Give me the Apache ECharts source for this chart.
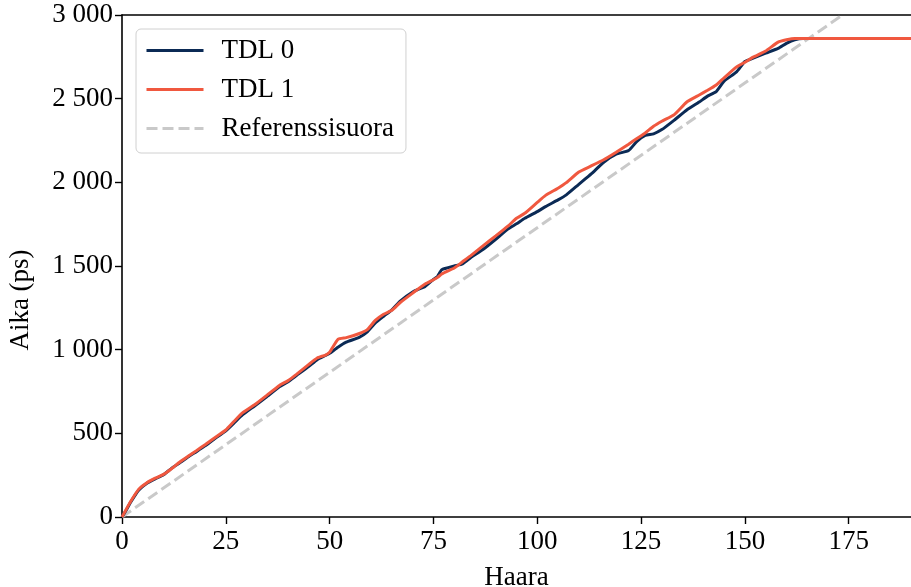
<!DOCTYPE html>
<html>
<head>
<meta charset="utf-8">
<script src="https://cdn.jsdelivr.net/npm/echarts@6/dist/echarts.min.js"></script>
<style>
  html, body { margin: 0; padding: 0; background: #ffffff; }
  #chart { width: 911px; height: 587px; }
</style>
</head>
<body>
<div id="chart"></div>
<script>
// Branch index (Haara) at which the delay was sampled
const branches = [0, 1, 2, 4, 6, 8, 10, 12, 14, 16, 18, 20, 22, 25, 27, 29, 32, 35, 38, 40,
  42, 45, 47, 49, 50, 52, 54, 57, 59, 61, 63, 65, 67, 70, 73, 75, 76, 77, 80, 82,
  84, 87, 90, 93, 95, 97, 100, 102, 105, 107, 110, 113, 116, 119, 122, 124, 126, 128, 130, 133,
  136, 139, 141, 143, 145, 148, 150, 152, 155, 158, 160, 162, 164, 166, 190];

// Accumulated delay (ps) for each delay line
const tdl0 = [0, 40, 85, 160, 202, 228, 252, 292, 325, 360, 392, 425, 462, 515, 562, 610, 665, 722, 780, 808,
  845, 900, 940, 965, 978, 1015, 1045, 1072, 1105, 1160, 1200, 1238, 1290, 1345, 1378, 1420, 1438, 1478, 1500, 1512,
  1550, 1600, 1660, 1722, 1752, 1785, 1825, 1855, 1895, 1925, 1988, 2050, 2120, 2168, 2190, 2245, 2280, 2290, 2315, 2372,
  2432, 2480, 2515, 2540, 2605, 2660, 2722, 2742, 2772, 2800, 2830, 2852, 2860, 2860, 2860];

const tdl1 = [0, 45, 90, 165, 205, 232, 255, 290, 330, 365, 398, 432, 468, 520, 572, 622, 672, 730, 788, 815,
  852, 912, 950, 968, 985, 1062, 1072, 1095, 1118, 1175, 1212, 1235, 1282, 1338, 1392, 1418, 1432, 1452, 1488, 1525,
  1562, 1622, 1680, 1740, 1785, 1815, 1880, 1922, 1965, 1998, 2062, 2098, 2135, 2180, 2228, 2262, 2295, 2335, 2365, 2405,
  2480, 2522, 2550, 2580, 2625, 2690, 2718, 2748, 2785, 2838, 2852, 2860, 2860, 2860, 2860];

// Ideal reference line: start and end points
const refX = [0, 173.5];
const refY = [0, 3000];

const xTicks = [0, 25, 50, 75, 100, 125, 150, 175];
const yTicks = [0, 500, 1000, 1500, 2000, 2500, 3000];

const seriesNames = ['TDL 0', 'TDL 1', 'Referenssisuora'];
const colors = ['#0b2a55', '#f0583f', '#c9c9c9'];

const FONT = 'Liberation Serif';
const FS = 27;

const pairs = (xs, ys) => xs.map((x, i) => [x, ys[i]]);
const thousands = v => String(v).replace(/\B(?=(\d{3})+(?!\d))/g, ' ');

const chart = echarts.init(document.getElementById('chart'), null, { renderer: 'canvas' });

const axisLine = { show: true, lineStyle: { color: '#000', width: 1.6 } };

chart.setOption({
  animation: false,
  backgroundColor: '#ffffff',
  grid: { left: 122, right: 0, top: 15, bottom: 70, containLabel: false, outerBoundsMode: 'none' },
  legend: {
    orient: 'vertical',
    left: 136,
    top: 29,
    data: seriesNames,
    itemWidth: 57,
    itemHeight: 14,
    itemGap: 12,
    padding: [8, 12, 11, 9],
    backgroundColor: 'rgba(255,255,255,0.8)',
    borderColor: '#d0d0d0',
    borderWidth: 1,
    borderRadius: 5,
    itemStyle: { color: 'rgba(0,0,0,0)', borderWidth: 0, opacity: 0 },
    lineStyle: { width: 3 },
    textStyle: { fontFamily: FONT, fontSize: FS, color: '#000', lineHeight: 27, padding: [0, 0, 0, 13] }
  },
  xAxis: [{
    type: 'value',
    min: 0,
    max: 190,
    interval: 25,
    name: 'Haara',
    nameLocation: 'middle',
    nameGap: 47,
    nameTextStyle: { fontFamily: FONT, fontSize: FS, color: '#000' },
    axisLine: axisLine,
    axisTick: { show: true, length: 7, inside: false, lineStyle: { color: '#000', width: 1.4 } },
    axisLabel: { fontFamily: FONT, fontSize: FS, color: '#000', margin: 11,
      showMaxLabel: false, hideOverlap: false,
      formatter: v => (xTicks.indexOf(v) >= 0 ? String(v) : '') },
    splitLine: { show: false }
  }, {
    type: 'value',
    position: 'top',
    min: 0,
    max: 190,
    axisLine: axisLine,
    axisTick: { show: false },
    axisLabel: { show: false },
    splitLine: { show: false }
  }],
  yAxis: {
    type: 'value',
    min: 0,
    max: 3000,
    interval: 500,
    name: 'Aika (ps)',
    nameLocation: 'middle',
    nameGap: 88,
    nameTextStyle: { fontFamily: FONT, fontSize: FS, color: '#000', padding: [0, 68, 0, 0] },
    axisLine: axisLine,
    axisTick: { show: true, length: 7, lineStyle: { color: '#000', width: 1.4 } },
    axisLabel: { fontFamily: FONT, fontSize: FS, color: '#000', margin: 9,
      formatter: v => (yTicks.indexOf(v) >= 0 ? thousands(v) : '') },
    splitLine: { show: false }
  },
  series: [{
    name: seriesNames[2],
    type: 'line',
    data: pairs(refX, refY),
    symbol: 'none',
    z: 1,
    lineStyle: { color: colors[2], width: 3, type: [11, 5] },
    itemStyle: { color: colors[2] }
  }, {
    name: seriesNames[0],
    type: 'line',
    data: pairs(branches, tdl0),
    symbol: 'none',
    smooth: 0.15,
    z: 2,
    lineStyle: { color: colors[0], width: 3 },
    itemStyle: { color: colors[0] }
  }, {
    name: seriesNames[1],
    type: 'line',
    data: pairs(branches, tdl1),
    symbol: 'none',
    smooth: 0.15,
    z: 3,
    lineStyle: { color: colors[1], width: 3 },
    itemStyle: { color: colors[1] }
  }]
});
</script>
</body>
</html>
